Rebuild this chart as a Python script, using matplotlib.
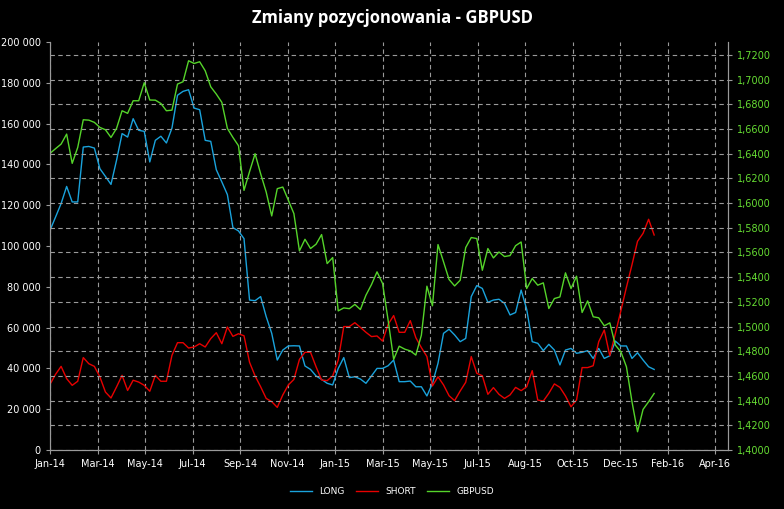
import matplotlib
matplotlib.use('Agg')
import matplotlib.pyplot as plt
import matplotlib.dates as mdates
import matplotlib.ticker as mticker
import pandas as pd
import numpy as np

# weekly COT data (Tuesdays), thousands of contracts
start_date = '2014-01-07'
long_k = [107.7, 114.2, 120.8, 129.2, 121.6, 121.6, 148.5, 148.8, 148.0, 137.9,
          134.1, 130.2, 142.0, 155.1, 153.4, 162.4, 156.7, 156.2, 141.2, 151.8,
          153.8, 150.5, 157.8, 173.9, 175.8, 176.6, 167.6, 166.8, 151.8, 151.3,
          137.4, 131.4, 125.2, 109.0, 107.4, 103.6, 73.5, 73.2, 75.2, 65.4,
          57.2, 44.1, 49.0, 51.0, 51.1, 51.0, 41.2, 39.5, 36.3, 34.6,
          32.7, 31.9, 40.0, 45.3, 35.5, 35.9, 34.8, 32.7, 36.3, 40.0,
          40.0, 41.3, 44.1, 33.5, 33.5, 33.8, 31.0, 31.0, 26.5, 32.7,
          42.5, 57.2, 59.2, 56.4, 53.1, 54.7, 75.2, 80.6, 79.2, 72.4,
          73.5, 73.9, 71.9, 66.2, 67.4, 78.4, 69.0, 53.1, 52.3, 48.7,
          51.8, 49.0, 41.7, 49.0, 49.8, 47.4, 47.9, 48.7, 44.9, 49.8,
          44.9, 46.2, 53.4, 51.0, 51.0, 44.9, 47.7, 44.1, 40.8, 39.5]
short_k = [32.2, 37.1, 41.0, 35.0, 31.7, 33.7, 45.3, 42.3, 41.0, 35.8,
           28.4, 25.5, 30.9, 36.6, 29.2, 34.2, 33.3, 31.7, 28.8, 36.6,
           33.7, 33.7, 46.4, 52.6, 52.6, 50.0, 50.5, 52.1, 50.5, 54.6,
           57.5, 52.1, 60.3, 55.7, 57.0, 56.0, 43.0, 36.3, 31.0, 25.3,
           23.7, 20.9, 27.0, 31.9, 34.6, 44.4, 47.9, 47.9, 40.8, 34.3,
           34.0, 36.3, 44.1, 60.5, 60.5, 62.4, 60.1, 57.7, 55.6, 55.9,
           53.4, 61.6, 65.9, 57.7, 57.7, 63.4, 55.1, 50.2, 45.8, 31.4,
           35.9, 31.9, 26.6, 24.2, 28.9, 33.2, 45.8, 37.6, 36.4, 27.3,
           30.6, 27.3, 25.3, 27.0, 30.7, 29.1, 31.0, 38.9, 24.5, 24.0,
           27.8, 32.4, 30.7, 26.5, 21.2, 24.5, 40.4, 40.4, 41.3, 53.1,
           58.8, 46.2, 57.0, 68.3, 79.8, 90.8, 102.3, 106.2, 113.1, 105.4]
gbpusd = [1.6403, 1.6441, 1.6478, 1.6559, 1.6322, 1.6451, 1.6675, 1.6672, 1.6654, 1.6613,
          1.6594, 1.6532, 1.6605, 1.6748, 1.6727, 1.6829, 1.6829, 1.6975, 1.6835, 1.6834,
          1.6807, 1.6748, 1.6753, 1.6964, 1.6983, 1.7153, 1.7131, 1.7145, 1.7072, 1.6942,
          1.6883, 1.6816, 1.6605, 1.6532, 1.6465, 1.6103, 1.6255, 1.6400, 1.6238, 1.6090,
          1.5896, 1.6117, 1.6130, 1.6023, 1.5915, 1.5613, 1.5707, 1.5632, 1.5667, 1.5745,
          1.5510, 1.5559, 1.5127, 1.5151, 1.5145, 1.5179, 1.5138, 1.5254, 1.5340, 1.5443,
          1.5349, 1.5052, 1.4734, 1.4841, 1.4817, 1.4803, 1.4769, 1.4930, 1.5327, 1.5168,
          1.5664, 1.5524, 1.5381, 1.5329, 1.5375, 1.5640, 1.5721, 1.5713, 1.5456, 1.5632,
          1.5556, 1.5604, 1.5567, 1.5575, 1.5655, 1.5685, 1.5308, 1.5389, 1.5335, 1.5354,
          1.5146, 1.5227, 1.5240, 1.5435, 1.5308, 1.5408, 1.5114, 1.5208, 1.5079, 1.5071,
          1.5006, 1.5030, 1.4850, 1.4795, 1.4674, 1.4391, 1.4148, 1.4329, 1.4391, 1.4458]

dates = pd.date_range(start_date, periods=len(long_k), freq='7D')
long_pos = np.array(long_k) * 1000
short_pos = np.array(short_k) * 1000

bg = 'black'
grid_col = '#9a9a9a'
fg = 'white'

fig = plt.figure(figsize=(7.84, 5.09), dpi=100, facecolor=bg)
ax = fig.add_axes([0.0638, 0.1159, 0.8645, 0.8016])
ax.set_facecolor(bg)
ax2 = ax.twinx()
ax2.patch.set_visible(False)

l1, = ax.plot(dates, long_pos, color='#1aa3dc', lw=1.0, label='LONG')
l2, = ax.plot(dates, short_pos, color='#e80000', lw=1.0, label='SHORT')
l3, = ax2.plot(dates, gbpusd, color='#55d42a', lw=1.0, label='GBPUSD')

x0 = pd.Timestamp(start_date)
ax.set_xlim(x0, x0 + pd.Timedelta(days=856))
ax.set_ylim(0, 200000)
ax2.set_ylim(1.40, 1.7305)

ticks = [x0 + pd.Timedelta(days=60 * k) for k in range(15)]
ax.set_xticks(ticks)
ax.xaxis.set_major_formatter(mdates.DateFormatter('%b-%y'))
ax.set_yticks(np.arange(0, 200001, 20000))
ax.yaxis.set_major_formatter(mticker.FuncFormatter(lambda v, p: f'{int(v):,}'.replace(',', ' ')))
ax2.set_yticks(np.arange(1.40, 1.7201, 0.02))
ax2.yaxis.set_major_formatter(mticker.FuncFormatter(lambda v, p: f'{v:.4f}'.replace('.', ',')))

ax.grid(axis='x', color=grid_col, ls=(0, (4, 3)), lw=0.8)
ax2.grid(axis='y', color=grid_col, ls=(0, (4, 3)), lw=0.8)
ax2.set_axisbelow(True)

for a in (ax, ax2):
    a.spines['top'].set_visible(False)
    for side in ('left', 'right', 'bottom'):
        a.spines[side].set_color(grid_col)
ax.tick_params(axis='x', colors=grid_col, labelcolor=fg, labelsize=7, length=3)
ax.tick_params(axis='y', colors=grid_col, labelcolor=fg, labelsize=7, length=3)
ax2.tick_params(axis='y', colors=grid_col, labelcolor='#66dd33', labelsize=7, length=3)

fig.text(0.5, 0.965, 'Zmiany pozycjonowania - GBPUSD', ha='center', va='center',
         color=fg, fontsize=12, fontweight='bold', family='Open Sans')

fig.legend(handles=[l1, l2, l3], loc='center', bbox_to_anchor=(0.5, 0.035), ncol=3,
           frameon=False, fontsize=6.5, labelcolor=fg, handlelength=2.5, columnspacing=1.2)

fig.savefig('out.png', dpi=100, facecolor=bg)
